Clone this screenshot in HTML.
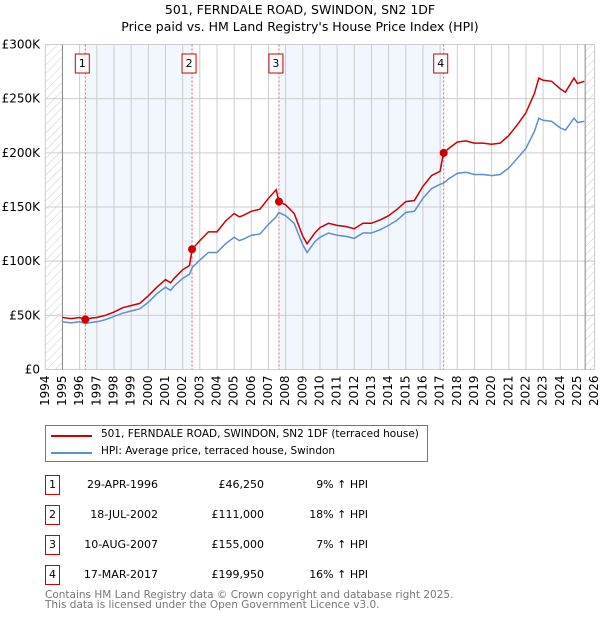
<!DOCTYPE html>
<html><head><meta charset="utf-8"><style>
body{margin:0;background:#fff;font-family:"DejaVu Sans","Liberation Sans",sans-serif}
#wrap{position:relative;width:600px;height:620px;overflow:hidden}
.t{position:absolute;font-size:11px;color:#000}
svg text{font-family:"DejaVu Sans","Liberation Sans",sans-serif}
</style></head><body><div id="wrap">
<svg id="svg" width="600" height="620" style="position:absolute;left:0;top:0">
<defs><pattern id="hatch" width="6" height="6" patternUnits="userSpaceOnUse" patternTransform="rotate(45)"><line x1="0" y1="0" x2="0" y2="6" stroke="#ccc" stroke-width="1"/></pattern></defs>
<text x="300" y="14" text-anchor="middle" font-size="12.5">501, FERNDALE ROAD, SWINDON, SN2 1DF</text>
<text x="300" y="31" text-anchor="middle" font-size="12.5">Price paid vs. HM Land Registry's House Price Index (HPI)</text>
<g id="plot"></g>
</svg>
<div style="position:absolute;left:45px;top:425px;width:381px;height:35px;border:1px solid #777;font-size:10.5px;white-space:nowrap">
<div style="position:absolute;left:5px;top:9px;width:41px;height:2px;background:#cc0000"></div>
<div style="position:absolute;left:55px;top:2px">501, FERNDALE ROAD, SWINDON, SN2 1DF (terraced house)</div>
<div style="position:absolute;left:5px;top:26px;width:41px;height:2px;background:#5b8fd4"></div>
<div style="position:absolute;left:55px;top:19px">HPI: Average price, terraced house, Swindon</div>
</div>
<div id="table"></div>
<div class="t" style="left:45px;top:590px;color:#777;line-height:10px;font-size:10.5px;white-space:nowrap">Contains HM Land Registry data © Crown copyright and database right 2025.<br>This data is licensed under the Open Government Licence v3.0.</div>
</div>
<script>
const dates=[1995,1995.5,1996,1996.33,1996.7,1997,1997.5,1998,1998.5,1999,1999.5,2000,2000.5,2001,2001.3,2001.5,2002,2002.4,2002.55,2003,2003.5,2004,2004.5,2005,2005.3,2005.5,2006,2006.5,2007,2007.45,2007.6,2008,2008.5,2009,2009.25,2009.7,2010,2010.5,2011,2011.5,2012,2012.5,2013,2013.5,2014,2014.5,2015,2015.5,2016,2016.5,2017,2017.2,2017.5,2018,2018.5,2019,2019.5,2020,2020.5,2021,2021.5,2022,2022.5,2022.75,2023,2023.5,2024,2024.3,2024.8,2025,2025.4];
const hpi=[44,43,44,42.5,43.5,44,46,49,52,54,56,62,70,76,73,77,84,88,94,101,108,108,116,122,119,120,124,125,134,141,145,142,135,115,108,118,122,126,124,123,121,126,126,129,133,138,145,146,158,167,171,172,176,181,182,180,180,179,180,186,195,204,220,232,230,229,223,221,232,228,229];
const red=[48,47,48,46.25,47.5,48,50,53,57,59,61,68,76,83,80,84,92,96,111,119,127,127,137,144,141,142,146,148,158,166,155,152,144,123,116,126,131,135,133,132,130,135,135,138,142,148,155,156,169,179,183,199.95,204,210,211,209,209,208,209,216,226,237,255,269,267,266,259,256,269,264,266];
const saleNums=["1","2","3","4"];
const saleDates=[1996.33,2002.55,2007.61,2017.21];
const salePrices=[46.25,111,155,199.95];
const saleLabels=["29-APR-1996","18-JUL-2002","10-AUG-2007","17-MAR-2017"];
const salePriceText=["£46,250","£111,000","£155,000","£199,950"];
const saleHpiText=["9% ↑ HPI","18% ↑ HPI","7% ↑ HPI","16% ↑ HPI"];
const yTicks=[0,50,100,150,200,250,300];
const yTickLabels=["£0","£50K","£100K","£150K","£200K","£250K","£300K"];
const xYears=[1994,1995,1996,1997,1998,1999,2000,2001,2002,2003,2004,2005,2006,2007,2008,2009,2010,2011,2012,2013,2014,2015,2016,2017,2018,2019,2020,2021,2022,2023,2024,2025,2026];

const X0=45.3,X1=594.6,Y0=369.5,Y1=44.5;
const x=t=>X0+(t-1994)/32*(X1-X0);
const y=v=>Y0-v/300*(Y0-Y1);
const NS="http://www.w3.org/2000/svg";
const g=document.getElementById('plot');
function mk(tag,attrs,parent){const e=document.createElementNS(NS,tag);for(const k in attrs)e.setAttribute(k,attrs[k]);(parent||g).appendChild(e);return e;}
for(let i=0;i<saleDates.length;i+=2){
 const end=i+1<saleDates.length?saleDates[i+1]:2026;
 const b=mk('rect',{x:x(saleDates[i]),y:Y1,width:x(end)-x(saleDates[i]),height:Y0-Y1,fill:'#f2f6fd'});
 
 
}
const h1=mk('rect',{x:X0,y:Y1,width:x(1995)-X0,height:Y0-Y1,fill:'url(#hatch)'});


const h2=mk('rect',{x:x(2025.45),y:Y1,width:X1-x(2025.45),height:Y0-Y1,fill:'url(#hatch)'});


xYears.forEach(yr=>{
 const l=mk('line',{x1:x(yr),x2:x(yr),y1:Y1,y2:Y0,stroke:'#ccc','stroke-width':1});
 
 
 const t=mk('text',{x:0,y:0,'font-size':12,'text-anchor':'end','dominant-baseline':'middle',transform:`translate(${x(yr)},${Y0+6}) rotate(-90)`});
 t.textContent=yr;
 
 
});
yTicks.forEach((v,i)=>{
 const l=mk('line',{x1:X0,x2:X1,y1:y(v),y2:y(v),stroke:'#ccc','stroke-width':1});
 
 
 const t=mk('text',{x:40,y:y(v)+4,'font-size':12,'text-anchor':'end'});
 t.textContent=yTickLabels[i];
 
 
});
[1995,2025.45].forEach(t=>{const l=mk('line',{x1:x(t),x2:x(t),y1:Y1,y2:Y0,stroke:'#888','stroke-width':1});
 
 });
saleDates.forEach(d=>{const l=mk('line',{x1:x(d),x2:x(d),y1:Y1,y2:Y0,stroke:'#f06060','stroke-width':1,'stroke-dasharray':'2,2'});
 
 });
const pts=a=>dates.map((d,i)=>x(d).toFixed(1)+','+y(a[i]).toFixed(1)).join(' ');
const hl=mk('polyline',{points:pts(hpi),fill:'none',stroke:'#5b8fd4','stroke-width':1.5});


const rl=mk('polyline',{points:pts(red),fill:'none',stroke:'#cc0000','stroke-width':1.5});


saleDates.forEach((d,i)=>{
 const c=mk('circle',{cx:x(d),cy:y(salePrices[i]),r:4,fill:'#cc0000'});
 
 
 const bx=mk('rect',{x:x(d)-10,y:54,width:14,height:19,fill:'#fff',stroke:'#cc0000','stroke-width':1});
 
 
 const t=mk('text',{x:x(d)-3,y:67,'font-size':11,'text-anchor':'middle'});
 t.textContent=saleNums[i];
 
 
});
const tb=document.getElementById('table');
saleNums.forEach((n,i)=>{
 const top=475+i*30;
 const r=document.createElement('div');
 
 
 r.style.cssText=`position:absolute;left:0;top:${top}px;width:600px;height:20px;font-size:11px;white-space:nowrap`;
 r.innerHTML=`<div style="position:absolute;left:45px;top:0;width:13px;height:18px;border:1px solid #cc0000;text-align:center;line-height:18px">${n}</div>
 <div style="position:absolute;left:60px;width:98px;text-align:right;top:3px">${saleLabels[i]}</div>
 <div style="position:absolute;left:180px;width:84px;text-align:right;top:3px">${salePriceText[i]}</div>
 <div style="position:absolute;left:290px;width:78px;text-align:right;top:3px">${saleHpiText[i]}</div>`;
 tb.appendChild(r);
});
</script></body></html>
